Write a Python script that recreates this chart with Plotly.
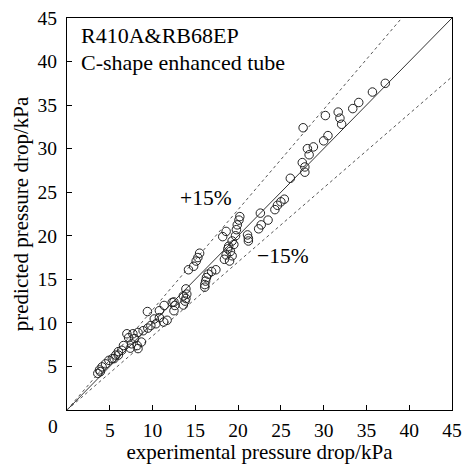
import plotly.graph_objects as go

# experimental (x) vs predicted (y) pressure drop, kPa
exp_dp = [37.2, 35.7, 34.1, 33.4, 31.7, 31.9, 32.1, 30.2, 27.6, 30.5, 30.0, 28.8, 28.1, 28.3,
          27.5, 27.8, 27.8, 26.1, 25.4, 25.0, 24.6, 24.3, 23.5, 22.6, 22.7, 22.4, 21.1, 21.2,
          21.2, 20.2, 20.1, 19.9, 19.8, 19.7, 19.3, 18.9, 19.1, 18.6, 19.3, 18.4, 19.0, 18.6,
          18.2, 15.5, 15.3, 15.1, 14.8, 14.2, 17.4, 16.9, 16.5, 16.3, 16.2, 16.1, 16.1, 13.9,
          14.0, 13.9, 13.6, 13.8, 13.6, 12.5, 12.3, 12.6, 12.5, 11.35, 10.8, 9.4, 10.2, 10.8,
          11.7, 11.3, 10.4, 9.8, 9.45, 8.9, 8.3, 7.7, 7.0, 7.2, 7.9, 8.7, 8.2, 7.55, 7.4, 6.6,
          6.4, 8.3, 6.0, 5.7, 5.3, 4.9, 4.5, 4.1, 3.8, 3.6, 3.9, 5.5, 6.0, 18.8, 19.5]
pred_dp = [37.5, 36.5, 35.3, 34.6, 34.2, 33.5, 32.8, 33.8, 32.4, 31.5, 30.9, 30.2, 30.0, 29.3,
           28.4, 27.9, 27.3, 26.6, 24.2, 23.9, 23.5, 23.0, 21.8, 22.6, 21.25, 20.8, 20.1, 19.7,
           19.4, 22.2, 21.8, 21.25, 20.7, 20.0, 19.4, 18.8, 18.2, 17.8, 17.7, 17.3, 17.1, 20.5,
           19.9, 18.0, 17.5, 17.1, 16.5, 16.1, 16.1, 15.9, 15.6, 15.2, 14.8, 14.4, 14.1, 13.9,
           13.3, 12.8, 13.1, 12.5, 12.05, 12.4, 12.35, 12.0, 11.4, 12.0, 11.4, 11.3, 10.45, 10.6,
           10.3, 10.1, 9.9, 9.7, 9.4, 9.1, 8.9, 8.75, 8.75, 8.3, 8.2, 7.8, 7.4, 7.6, 7.1, 7.4,
           6.85, 7.05, 6.7, 6.3, 5.9, 5.7, 5.3, 4.95, 4.6, 4.2, 4.4, 5.9, 6.3, 18.5, 19.0]

tick_vals = [5, 10, 15, 20, 25, 30, 35, 40, 45]
ref_x = [0, 45]
ref_y = [0, 45]
plus_x = [0, 45 / 1.15]
plus_y = [0, 45]
minus_x = [0, 45]
minus_y = [0, 45 * 0.85]

FONT = "Liberation Serif"
FS = 19.5
FT = 21
FA = 21.5
FL = 22

fig = go.Figure()
fig.add_trace(go.Scatter(x=ref_x, y=ref_y, mode="lines",
                         line=dict(color="#333333", width=1), hoverinfo="skip"))
fig.add_trace(go.Scatter(x=plus_x, y=plus_y, mode="lines",
                         line=dict(color="#555555", width=1, dash="3px,3px"), hoverinfo="skip"))
fig.add_trace(go.Scatter(x=minus_x, y=minus_y, mode="lines",
                         line=dict(color="#555555", width=1, dash="3px,3px"), hoverinfo="skip"))
fig.add_trace(go.Scatter(x=exp_dp, y=pred_dp, mode="markers",
                         marker=dict(symbol="circle-open", size=8.5, color="#222222",
                                     line=dict(width=1, color="#222222"))))

axis_common = dict(range=[0, 45], tickvals=tick_vals, ticks="inside", ticklen=5,
                   tickcolor="black", showline=True, linecolor="black", linewidth=1.3,
                   mirror=True, showgrid=False, zeroline=False,
                   ticklabeloverflow="allow",
                   tickfont=dict(family=FONT, size=FS, color="black"))

fig.update_layout(
    width=470, height=464,
    margin=dict(l=67, r=8, t=16, b=52),
    paper_bgcolor="white", plot_bgcolor="white",
    showlegend=False,
    font=dict(family=FONT, size=FS, color="black"),
    xaxis=dict(**axis_common, ticklabelstandoff=2,
               title=dict(text="experimental pressure drop/kPa", standoff=1,
                          font=dict(family=FONT, size=FT, color="black"))),
    yaxis=dict(**axis_common, ticklabelstandoff=5,
               title=dict(text="predicted pressure drop/kPa", standoff=3,
                          font=dict(family=FONT, size=FT, color="black"))),
    annotations=[
        dict(x=0, y=0, xref="x", yref="y", text="0", showarrow=False,
             xshift=-14, yshift=-16, font=dict(family=FONT, size=FS, color="black")),
        dict(x=0.033, y=0.922, xref="paper", yref="paper", text="R410A&amp;RB68EP",
             showarrow=False, xanchor="left", yanchor="bottom", borderpad=0,
             font=dict(family=FONT, size=FL, color="black")),
        dict(x=0.033, y=0.920, xref="paper", yref="paper", text="C-shape enhanced tube",
             showarrow=False, xanchor="left", yanchor="top", borderpad=0,
             font=dict(family=FONT, size=FL, color="black")),
        dict(x=16.3, y=24.3, xref="x", yref="y", text="+15%", showarrow=False,
             font=dict(family=FONT, size=FA, color="black")),
        dict(x=25.3, y=17.7, xref="x", yref="y", text="\u221215%", showarrow=False,
             font=dict(family=FONT, size=FA, color="black")),
    ],
)

fig.write_html("out.html", config={"displayModeBar": False},
               post_script="document.body.style.margin='0';document.body.style.overflow='hidden';")
